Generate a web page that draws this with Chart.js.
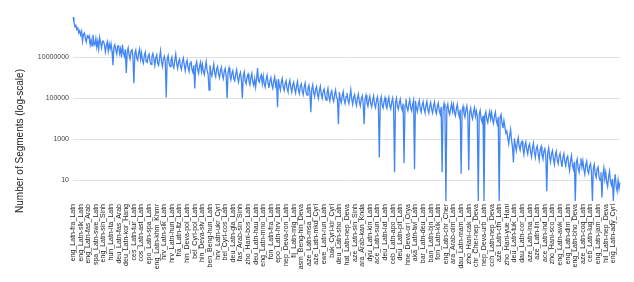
<!DOCTYPE html>
<html>
<head>
<meta charset="utf-8">
<script src="https://cdn.jsdelivr.net/npm/chart.js@4.4.1/dist/chart.umd.min.js"></script>
<style>
  html, body { margin: 0; padding: 0; background: #fff; }
  #wrap { width: 634px; height: 282px; }
</style>
</head>
<body>
<div id="wrap"><canvas id="chart" width="634" height="282"></canvas></div>
<script>
// language pairs shown on the x axis (one every few points)
var pairNames = [
  'eng_Latn-fra_Latn', 'eng_Latn-slk_Latn', 'eng_Latn-fas_Arab', 'spa_Latn-swe_Latn',
  'eng_Latn-sin_Sinh', 'hun_Latn-ita_Latn', 'deu_Latn-fas_Arab', 'deu_Latn-kor_Hang',
  'ces_Latn-tur_Latn', 'cos_Latn-ast_Latn', 'epo_Latn-spa_Latn', 'eng_Latn-khm_Khmr',
  'hrv_Latn-slk_Latn', 'hrv_Latn-hun_Latn', 'fra_Latn-ltz_Latn', 'hin_Deva-pol_Latn',
  'bel_Cyrl-pol_Latn', 'hin_Deva-slv_Latn', 'ben_Beng-hun_Latn', 'hrv_Latn-ukr_Cyrl',
  'bel_Cyrl-cos_Latn', 'deu_Latn-gla_Latn', 'fas_Arab-sin_Sinh', 'zho_Hani-bos_Latn',
  'deu_Latn-hau_Latn', 'eng_Latn-mno_Latn', 'fon_Latn-fra_Latn', 'epo_Latn-hrv_Latn',
  'nep_Deva-ron_Latn', 'fij_Latn-mlg_Latn', 'asm_Beng-hin_Deva', 'aze_Latn-msa_Latn',
  'aze_Latn-mkd_Cyrl', 'ewe_Latn-run_Latn', 'bak_Cyrl-kir_Cyrl', 'deu_Latn-sho_Latn',
  'hat_Latn-nep_Deva', 'aze_Latn-sin_Sinh', 'ara_Arab-kan_Knda', 'dyu_Latn-kin_Latn',
  'ace_Latn-sun_Latn', 'deu_Latn-lat_Latn', 'ceb_Latn-apo_Latn', 'deu_Latn-pit_Latn',
  'hne_Deva-ori_Orya', 'aka_Latn-twi_Latn', 'bar_Latn-deu_Latn', 'ban_Latn-bjn_Latn',
  'fon_Latn-kik_Latn', 'eng_Latn-chr_Cher', 'ara_Arab-olm_Latn', 'dau_Latn-mam_Latn',
  'zho_Hani-cak_Latn', 'chr_Cher-nep_Deva', 'nep_Deva-urb_Latn', 'cch_Latn-nep_Deva',
  'aze_Latn-cfn_Latn', 'zho_Hani-yue_Hani', 'deu_Latn-tuk_Latn', 'dau_Latn-cor_Latn',
  'aze_Latn-ina_Latn', 'aze_Latn-lin_Latn', 'ace_Latn-ind_Latn', 'zho_Hani-sco_Latn',
  'eng_Latn-awk_Latn', 'eng_Latn-dim_Latn', 'eng_Latn-bho_Deva', 'aze_Latn-coq_Latn',
  'ceb_Latn-lug_Latn', 'eng_Latn-jam_Latn', 'hil_Latn-nep_Deva', 'eng_Latn-ady_Cyrl'
];
var pointsPerPair = 8;

// segment counts, 8 per labelled pair (one row per pair)
var segmentCounts = [
  8.7e8, 5e8, 3e8, 3.5e8, 2.2e8, 2.6e8, 1.5e8, 1.9e8,
  1.2e8, 1.8e8, 6e7, 1.3e8, 1.5e8, 8e7, 5.5e7, 1.1e8,
  9e7, 1.1e8, 4e7, 7e7, 3.5e7, 1.2e8, 5e7, 4e7,
  8e7, 3e7, 6e7, 2.5e7, 9e7, 5e7, 2.8e7, 6e7,
  6e7, 4e7, 1.8e7, 3.5e7, 5.5e7, 2e7, 4.5e7, 2.5e7,
  4.5e7, 2e7, 4e6, 3e7, 4e7, 2.2e7, 1.4e7, 3.5e7,
  3.5e7, 1.5e7, 2.5e7, 1e7, 4e7, 1.6e7, 1.1e7, 2.4e7,
  1.7e6, 1.8e7, 2.8e7, 1.2e7, 8e6, 2e7, 2.5e7, 1e7,
  5.4e5, 1.5e7, 2.2e7, 9e6, 7e6, 1.6e7, 2.5e7, 8e6,
  1.6e7, 7e6, 5e6, 1.2e7, 1.7e7, 6e6, 5.5e6, 1.1e7,
  1.4e7, 6e6, 4.5e6, 1.1e7, 1.5e7, 8e6, 4e6, 9e6,
  1.3e7, 5e6, 4e6, 9e6, 2e7, 6e6, 3.5e6, 8e6,
  1.1e7, 6e6, 1.1e5, 8e6, 1.2e7, 5e6, 3.5e6, 7e6,
  1e7, 4e6, 3e6, 7e6, 1.4e7, 5e6, 2.8e6, 6e6,
  8e6, 3.5e6, 2.5e6, 6e6, 9e6, 4e6, 2.2e6, 5e6,
  7e6, 3e6, 2e6, 5e6, 6.5e6, 2.5e6, 1.8e6, 4e6,
  3e5, 4e6, 6e6, 2.5e6, 1.6e6, 3.5e6, 5.5e6, 2e6,
  4.5e6, 2e6, 1.4e6, 3e6, 6e6, 2.2e6, 1.5e6, 2.5e5,
  4e6, 1.8e6, 1.2e6, 2.5e6, 4.5e6, 1.6e6, 1.1e6, 2.6e6,
  3.5e6, 1.5e6, 1e6, 2.2e6, 3.2e6, 1.4e6, 9e5, 2e6,
  2.8e6, 1.2e6, 1e5, 1.8e6, 3e6, 1.3e6, 8e5, 1.6e6,
  2.2e6, 9e5, 7e5, 1.5e6, 2.4e6, 1e6, 6e5, 1.3e6,
  1.8e6, 8e5, 1e5, 1.2e6, 1.9e6, 7e5, 5e5, 1.1e6,
  1.5e6, 7e5, 4.5e5, 1e6, 1.6e6, 6e5, 4.2e5, 9e5,
  3.5e5, 9e5, 2.9e6, 7e5, 6e5, 1.1e6, 1.4e6, 5e5,
  1.2e6, 5e5, 3.5e5, 8e5, 1.3e6, 5.5e5, 3.2e5, 7e5,
  1e6, 4.5e5, 3e5, 7e5, 1.1e6, 4e5, 6e5, 3.6e4,
  8.5e5, 4e5, 2.5e5, 6e5, 9e5, 3.5e5, 2.4e5, 5e5,
  7e5, 3e5, 2.1e5, 5e5, 7.5e5, 3.2e5, 2e5, 4.5e5,
  6e5, 2.8e5, 1.8e5, 4e5, 6.5e5, 2.5e5, 1.7e5, 3.8e5,
  5e5, 2.2e5, 1.5e5, 3.5e5, 5.5e5, 2e5, 1.4e5, 3e5,
  4.2e5, 2e5, 2.1e4, 2.8e5, 4.5e5, 1.8e5, 1.2e5, 2.6e5,
  3.6e5, 1.6e5, 1e5, 2.4e5, 3.8e5, 1.5e5, 1e5, 2.2e5,
  2.8e5, 1.3e5, 8e4, 1.8e5, 3e5, 1.2e5, 7.5e4, 1.7e5,
  2.3e5, 1e5, 7e4, 1.5e5, 2.5e5, 1.1e5, 9e4, 5.4e3,
  2e5, 9e4, 6e4, 1.3e5, 2.1e5, 8e4, 5.5e4, 1.2e5,
  1.8e5, 8e4, 5.5e4, 1.2e5, 2.6e5, 9e4, 5e4, 1.1e5,
  1.5e5, 7e4, 4.5e4, 1e5, 1.6e5, 6.5e4, 4.2e4, 9e4,
  1.3e5, 6e4, 5.4e3, 9e4, 1.4e5, 6e4, 4e4, 8e4,
  1.25e5, 5.5e4, 3.8e4, 8e4, 1.3e5, 5e4, 3.5e4, 7.5e4,
  1.15e5, 5e4, 130, 7.5e4, 1.2e5, 4.5e4, 3.4e4, 7e4,
  1.05e5, 4.5e4, 3.2e4, 7e4, 1.1e5, 4.2e4, 3e4, 6.5e4,
  1e5, 4e4, 25, 6e4, 1e5, 4e4, 2.9e4, 6e4,
  9e4, 3.8e4, 2.7e4, 5.5e4, 68, 4.5e4, 9e4, 3.5e4,
  2.5e4, 5e4, 8.5e4, 3.5e4, 2.4e4, 5e4, 8e4, 35,
  7.5e4, 3.2e4, 2.2e4, 5e4, 7.8e4, 3e4, 2.1e4, 4.5e4,
  6.8e4, 3e4, 2e4, 4.5e4, 7e4, 2.8e4, 1.9e4, 4e4,
  6.2e4, 2.8e4, 1.9e4, 4.2e4, 6.5e4, 2.6e4, 1.8e4, 4e4,
  5.8e4, 2.5e4, 1.7e4, 3.8e4, 25, 3e4, 5.5e4, 2.4e4,
  1, 3.5e4, 5.2e4, 2.2e4, 1.6e4, 3.2e4, 5.5e4, 2.3e4,
  4.8e4, 2e4, 1.4e4, 3e4, 5e4, 2e4, 1.3e4, 2.8e4,
  21, 2.5e4, 4e4, 1.8e4, 1.2e4, 2.6e4, 4.2e4, 1.6e4,
  31, 2e4, 3.3e4, 1.5e4, 1e4, 2.2e4, 3.5e4, 1.3e4,
  2.4e4, 1.2e4, 1, 1.6e4, 2.5e4, 1e4, 7e3, 1.4e4,
  1, 1.5e4, 2.2e4, 9e3, 6.5e3, 1.4e4, 2.3e4, 1e4,
  2e4, 9e3, 6e3, 1.3e4, 2.1e4, 8e3, 5.5e3, 1.2e4,
  1, 1.2e4, 1.6e4, 6e3, 3.5e3, 8e3, 4e3, 2e3,
  2.5e3, 1.2e3, 600, 1.5e3, 3e3, 900, 400, 76,
  1.1e3, 500, 280, 700, 1.2e3, 450, 300, 650,
  800, 350, 180, 500, 750, 300, 190, 450,
  600, 250, 140, 380, 650, 230, 130, 350,
  480, 200, 100, 300, 450, 180, 110, 260,
  350, 150, 3, 220, 380, 140, 80, 200,
  280, 110, 60, 170, 260, 100, 65, 150,
  210, 90, 45, 130, 200, 80, 50, 120,
  150, 60, 30, 90, 160, 55, 35, 80,
  1, 70, 110, 40, 25, 60, 120, 45,
  90, 35, 20, 55, 85, 30, 22, 50,
  65, 25, 1, 40, 60, 20, 14, 35,
  45, 15, 10, 25, 1.5, 18, 40, 12,
  25, 8, 5, 15, 28, 9, 6, 12,
  1, 8, 20, 5, 3, 10, 4, 8
];

var yTickValues = [10, 1000, 100000, 10000000];
var yTitle = 'Number of Segments (log-scale)';

var categories = [];
pairNames.forEach(function (name) {
  categories.push(name);
  for (var j = 1; j < pointsPerPair; j++) categories.push('');
});

var fontFamily = 'Arial, "Liberation Sans", sans-serif';
var labelFont = { family: fontFamily, size: 7 };

// axis title centred on the whole canvas height, like the original
var yTitlePlugin = {
  id: 'yTitle',
  afterDraw: function (chart) {
    var ctx = chart.ctx;
    ctx.save();
    ctx.translate(20, chart.height / 2);
    ctx.rotate(-Math.PI / 2);
    ctx.textAlign = 'center';
    ctx.textBaseline = 'middle';
    ctx.font = '10px ' + fontFamily;
    ctx.fillStyle = '#222';
    ctx.fillText(yTitle, 0, 0);
    ctx.restore();
  }
};

new Chart(document.getElementById('chart'), {
  type: 'line',
  data: {
    labels: categories,
    datasets: [{
      data: segmentCounts,
      borderColor: '#4285f4',
      borderWidth: 1.3,
      pointRadius: 0,
      tension: 0,
      fill: false
    }]
  },
  options: {
    responsive: false,
    animation: false,
    layout: { padding: { left: 8, right: 14, top: 16, bottom: 0 } },
    plugins: { legend: { display: false }, tooltip: { enabled: false } },
    scales: {
      x: {
        type: 'category',
        grid: { display: false, drawTicks: false },
        border: { display: false },
        ticks: {
          autoSkip: false, maxRotation: 90, minRotation: 90, padding: 3,
          color: '#222', font: labelFont
        },
        afterFit: function (s) { s.height = 81; }
      },
      y: {
        type: 'logarithmic',
        min: 1,
        max: 1e9,
        afterBuildTicks: function (s) {
          s.ticks = yTickValues.map(function (v) { return { value: v }; });
        },
        ticks: {
          callback: function (v) { return String(v); },
          color: '#444', padding: 4, font: labelFont
        },
        grid: { color: '#e0e0e0', drawTicks: false },
        border: { display: false },
        afterFit: function (s) { s.width = 65; }
      }
    }
  },
  plugins: [yTitlePlugin]
});
</script>
</body>
</html>
